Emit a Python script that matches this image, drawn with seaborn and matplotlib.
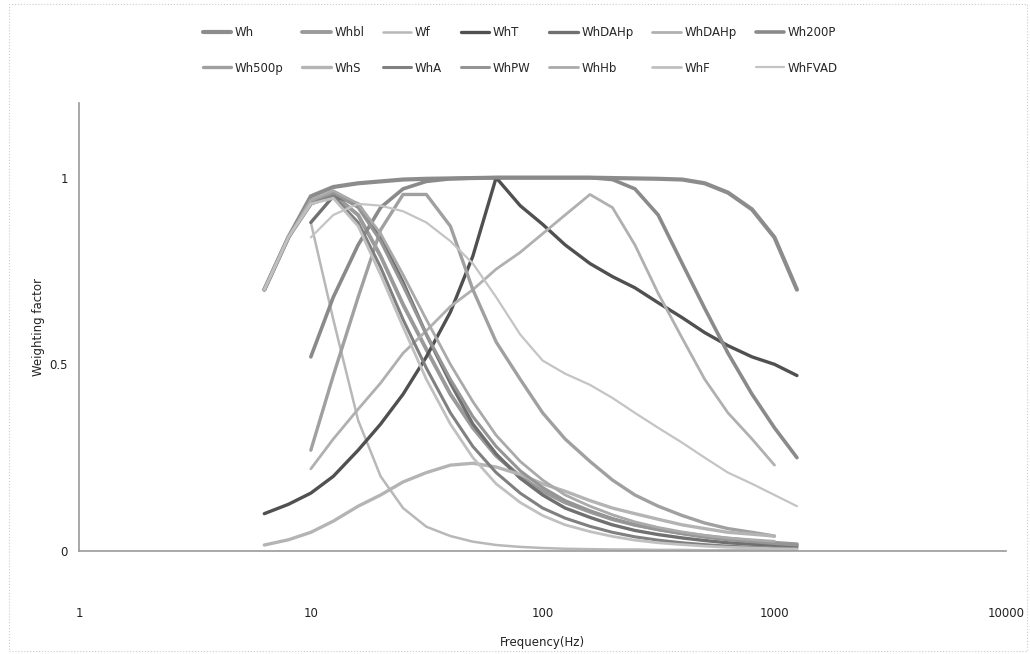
import numpy as np
import pandas as pd
import matplotlib
matplotlib.use("Agg")
import matplotlib.pyplot as plt
import seaborn as sns
from matplotlib.patches import Rectangle

nan = np.nan

# 1/3 octave band centres (Hz)
freq = [6.3, 8, 10, 12.5, 16, 20, 25, 31.5, 40, 50, 63, 80, 100, 125,
        160, 200, 250, 315, 400, 500, 630, 800, 1000, 1250]

labels = ["Wh", "Whbl", "Wf", "WhT", "WhDAHp", "WhDAHp", "Wh200P",
          "Wh500p", "WhS", "WhA", "WhPW", "WhHb", "WhF", "WhFVAD"]

w_wh = [0.70, 0.84, 0.95, 0.975, 0.985, 0.99, 0.995, 0.997, 0.998, 0.999, 1.0, 1.0,
        1.0, 1.0, 1.0, 0.999, 0.998, 0.997, 0.995, 0.985, 0.96, 0.915, 0.84, 0.70]
w_whbl = [0.70, 0.84, 0.93, 0.955, 0.90, 0.79, 0.66, 0.54, 0.42, 0.33, 0.255, 0.20,
          0.16, 0.13, 0.105, 0.085, 0.07, 0.058, 0.048, 0.04, 0.033, 0.027, 0.022, 0.018]
w_wf = [nan, nan, 0.88, 0.62, 0.35, 0.20, 0.115, 0.065, 0.04, 0.025, 0.016, 0.011,
        0.008, 0.006, 0.005, 0.004, 0.004, 0.003, 0.003, 0.002, 0.002, 0.002, 0.002, 0.002]
w_wht = [0.10, 0.125, 0.155, 0.20, 0.27, 0.34, 0.42, 0.52, 0.64, 0.79, 1.0, 0.925,
         0.875, 0.82, 0.77, 0.735, 0.705, 0.665, 0.625, 0.585, 0.55, 0.52, 0.50, 0.47]
w_whdahp1 = [nan, nan, 0.88, 0.95, 0.93, 0.84, 0.72, 0.58, 0.45, 0.34, 0.26, 0.195,
             0.15, 0.115, 0.09, 0.07, 0.055, 0.044, 0.035, 0.028, 0.022, 0.018, 0.015, 0.012]
w_whdahp2 = [nan, nan, 0.22, 0.30, 0.38, 0.45, 0.53, 0.59, 0.655, 0.70, 0.755, 0.80,
             0.85, 0.90, 0.955, 0.92, 0.82, 0.69, 0.57, 0.46, 0.37, 0.30, 0.23, nan]
w_wh200p = [nan, nan, 0.52, 0.68, 0.82, 0.92, 0.97, 0.99, 0.997, 0.999, 1.0, 1.0,
            1.0, 1.0, 1.0, 0.995, 0.97, 0.90, 0.77, 0.65, 0.53, 0.42, 0.33, 0.25]
w_wh500p = [nan, nan, 0.27, 0.47, 0.68, 0.86, 0.955, 0.955, 0.87, 0.70, 0.56, 0.46,
            0.37, 0.30, 0.24, 0.19, 0.15, 0.12, 0.095, 0.075, 0.06, 0.05, 0.04, nan]
w_whs = [0.016, 0.03, 0.05, 0.08, 0.12, 0.15, 0.185, 0.21, 0.23, 0.235, 0.225, 0.205,
         0.18, 0.16, 0.135, 0.115, 0.10, 0.085, 0.07, 0.06, 0.05, 0.045, 0.04, nan]
w_wha = [0.70, 0.84, 0.93, 0.95, 0.88, 0.76, 0.62, 0.49, 0.37, 0.28, 0.21, 0.155,
         0.115, 0.088, 0.066, 0.05, 0.038, 0.029, 0.022, 0.017, 0.013, 0.01, 0.008, 0.006]
w_whpw = [0.70, 0.84, 0.94, 0.96, 0.92, 0.83, 0.71, 0.58, 0.46, 0.36, 0.28, 0.215,
          0.17, 0.135, 0.108, 0.087, 0.07, 0.057, 0.046, 0.037, 0.03, 0.025, 0.02, 0.016]
w_whhb = [0.70, 0.84, 0.94, 0.965, 0.93, 0.85, 0.74, 0.62, 0.50, 0.40, 0.31, 0.24,
          0.19, 0.15, 0.12, 0.097, 0.078, 0.063, 0.051, 0.042, 0.035, 0.03, 0.026, nan]
w_whf = [0.70, 0.84, 0.93, 0.945, 0.87, 0.74, 0.60, 0.46, 0.34, 0.25, 0.18, 0.13,
         0.095, 0.07, 0.052, 0.039, 0.029, 0.022, 0.017, 0.013, 0.01, 0.008, 0.006, 0.005]
w_whfvad = [nan, nan, 0.84, 0.90, 0.93, 0.925, 0.91, 0.88, 0.83, 0.77, 0.68, 0.58,
            0.51, 0.475, 0.445, 0.41, 0.37, 0.33, 0.29, 0.25, 0.21, 0.18, 0.15, 0.12]

series = [w_wh, w_whbl, w_wf, w_wht, w_whdahp1, w_whdahp2, w_wh200p,
          w_wh500p, w_whs, w_wha, w_whpw, w_whhb, w_whf, w_whfvad]

colors = ["#8c8c8c", "#9a9a9a", "#b8b8b8", "#505050", "#707070", "#b0b0b0", "#8a8a8a",
          "#a0a0a0", "#b4b4b4", "#808080", "#959595", "#aaaaaa", "#c0c0c0", "#c4c4c4"]
widths = [3.0, 2.8, 1.8, 2.4, 2.4, 2.0, 2.6, 2.4, 2.4, 2.2, 2.2, 2.0, 2.0, 1.6]

sns.set_style("white")
plt.rcParams["font.family"] = ["DejaVu Sans"]

fig = plt.figure(figsize=(10.3, 6.54), dpi=100)
ax = fig.add_axes([0.0767, 0.1575, 0.9003, 0.685])

for lab, vals, c, lw in zip(labels, series, colors, widths):
    s = pd.DataFrame({"freq": freq, "w": vals}).dropna()
    sns.lineplot(data=s, x="freq", y="w", ax=ax, color=c, linewidth=lw,
                 label=lab, estimator=None, solid_joinstyle="round",
                 solid_capstyle="round")

ax.set_xscale("log")
ax.set_xlim(1, 10000)
ax.set_ylim(0, 1.2)
ax.set_xticks([1, 10, 100, 1000, 10000])
ax.set_xticklabels(["1", "10", "100", "1000", "10000"])
ax.xaxis.set_minor_locator(matplotlib.ticker.NullLocator())
ax.set_yticks([0, 0.5, 1])
ax.set_yticklabels(["0", "0.5", "1"])
ax.tick_params(axis="x", direction="in", length=4, pad=40, labelsize=8.5, colors="#222222")
ax.tick_params(axis="y", direction="out", length=3, pad=5, labelsize=8.5, colors="#222222")
ax.tick_params(axis="both", color="#999999")

for sp in ["top", "right"]:
    ax.spines[sp].set_visible(False)
for sp in ["left", "bottom"]:
    ax.spines[sp].set_color("#9a9a9a")
    ax.spines[sp].set_linewidth(1.2)

ax.set_xlabel("Frequency(Hz)", fontsize=8.5, color="#222222", labelpad=12)
ax.set_ylabel("Weighting factor", fontsize=8.5, color="#222222")
ax.yaxis.set_label_coords(-0.037, 0.5)

# legend reads row by row like the original: reorder for column-major fill
ax.get_legend().remove()
handles, labs = ax.get_legend_handles_labels()
ncol = 7
order = [r * ncol + c for c in range(ncol) for r in range(2)]
fig.legend([handles[i] for i in order], [labs[i] for i in order],
           loc="center", bbox_to_anchor=(0.505, 0.923), ncol=ncol,
           fontsize=8.5, frameon=False, handlelength=2.4, handletextpad=0.3,
           columnspacing=1.6, labelspacing=1.9)

fig.patches.append(Rectangle((0.009, 0.004), 0.988, 0.99, transform=fig.transFigure,
                             fill=False, edgecolor="#cccccc", linestyle=":", linewidth=0.8))

fig.savefig("out.png", dpi=100, facecolor="white")
